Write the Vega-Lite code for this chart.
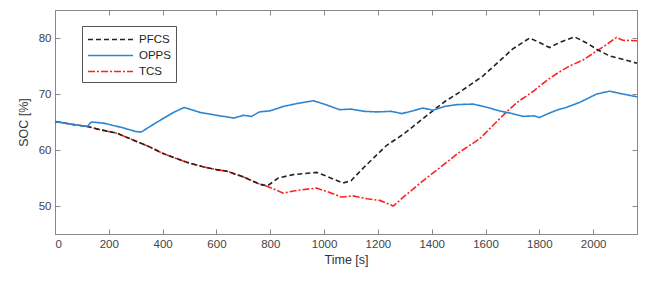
{
  "$schema": "https://vega.github.io/schema/vega-lite/v6.json",
  "autosize": "none",
  "padding": {"left": 55, "top": 10, "right": 13, "bottom": 53},
  "width": 582,
  "height": 224,
  "background": "white",
  "config": {
    "font": "Liberation Sans",
    "view": {"stroke": "#888", "strokeWidth": 1},
    "axis": {"grid": false, "domainColor": "#888", "tickColor": "#888", "labelColor": "#444", "titleColor": "#333", "labelFontSize": 11.5, "titleFontSize": 12.5, "titleFontWeight": "normal", "tickSize": -5, "labelPadding": 9}
  },
  "data": {"values": [
    {"s":"TCS","t":0,"v":65.1},{"s":"TCS","t":60,"v":64.6},{"s":"TCS","t":120,"v":64.2},{"s":"TCS","t":170,"v":63.6},{"s":"TCS","t":230,"v":63.0},{"s":"TCS","t":290,"v":61.8},{"s":"TCS","t":350,"v":60.6},{"s":"TCS","t":400,"v":59.4},{"s":"TCS","t":450,"v":58.5},{"s":"TCS","t":490,"v":57.8},{"s":"TCS","t":550,"v":57.0},{"s":"TCS","t":600,"v":56.5},{"s":"TCS","t":640,"v":56.2},{"s":"TCS","t":700,"v":55.2},{"s":"TCS","t":760,"v":53.9},{"s":"TCS","t":790,"v":53.5},{"s":"TCS","t":848,"v":52.3},{"s":"TCS","t":900,"v":52.8},{"s":"TCS","t":972,"v":53.2},{"s":"TCS","t":1010,"v":52.6},{"s":"TCS","t":1065,"v":51.6},{"s":"TCS","t":1107,"v":51.8},{"s":"TCS","t":1160,"v":51.3},{"s":"TCS","t":1207,"v":51.0},{"s":"TCS","t":1257,"v":50.0},{"s":"TCS","t":1300,"v":51.8},{"s":"TCS","t":1355,"v":54.0},{"s":"TCS","t":1442,"v":57.3},{"s":"TCS","t":1500,"v":59.5},{"s":"TCS","t":1578,"v":62.0},{"s":"TCS","t":1630,"v":64.5},{"s":"TCS","t":1678,"v":66.8},{"s":"TCS","t":1720,"v":68.6},{"s":"TCS","t":1775,"v":70.4},{"s":"TCS","t":1830,"v":72.5},{"s":"TCS","t":1870,"v":73.8},{"s":"TCS","t":1912,"v":75.0},{"s":"TCS","t":1960,"v":76.0},{"s":"TCS","t":1998,"v":77.2},{"s":"TCS","t":2040,"v":78.5},{"s":"TCS","t":2087,"v":80.1},{"s":"TCS","t":2110,"v":79.6},{"s":"TCS","t":2163,"v":79.5},
    {"s":"PFCS","t":0,"v":65.1},{"s":"PFCS","t":60,"v":64.6},{"s":"PFCS","t":120,"v":64.2},{"s":"PFCS","t":170,"v":63.6},{"s":"PFCS","t":230,"v":63.0},{"s":"PFCS","t":290,"v":61.8},{"s":"PFCS","t":350,"v":60.6},{"s":"PFCS","t":400,"v":59.4},{"s":"PFCS","t":450,"v":58.5},{"s":"PFCS","t":490,"v":57.8},{"s":"PFCS","t":550,"v":57.0},{"s":"PFCS","t":600,"v":56.5},{"s":"PFCS","t":640,"v":56.2},{"s":"PFCS","t":700,"v":55.2},{"s":"PFCS","t":760,"v":53.9},{"s":"PFCS","t":790,"v":53.6},{"s":"PFCS","t":830,"v":55.0},{"s":"PFCS","t":885,"v":55.6},{"s":"PFCS","t":972,"v":56.0},{"s":"PFCS","t":1010,"v":55.3},{"s":"PFCS","t":1070,"v":54.1},{"s":"PFCS","t":1100,"v":54.5},{"s":"PFCS","t":1150,"v":57.0},{"s":"PFCS","t":1232,"v":60.8},{"s":"PFCS","t":1300,"v":63.0},{"s":"PFCS","t":1404,"v":67.0},{"s":"PFCS","t":1450,"v":68.7},{"s":"PFCS","t":1500,"v":70.2},{"s":"PFCS","t":1590,"v":73.2},{"s":"PFCS","t":1650,"v":75.8},{"s":"PFCS","t":1700,"v":78.0},{"s":"PFCS","t":1764,"v":80.0},{"s":"PFCS","t":1800,"v":79.2},{"s":"PFCS","t":1838,"v":78.3},{"s":"PFCS","t":1880,"v":79.3},{"s":"PFCS","t":1931,"v":80.2},{"s":"PFCS","t":1980,"v":79.0},{"s":"PFCS","t":2020,"v":77.8},{"s":"PFCS","t":2061,"v":76.8},{"s":"PFCS","t":2110,"v":76.2},{"s":"PFCS","t":2163,"v":75.5},
    {"s":"OPPS","t":0,"v":65.1},{"s":"OPPS","t":60,"v":64.6},{"s":"OPPS","t":120,"v":64.2},{"s":"OPPS","t":135,"v":65.0},{"s":"OPPS","t":180,"v":64.8},{"s":"OPPS","t":250,"v":64.0},{"s":"OPPS","t":300,"v":63.3},{"s":"OPPS","t":320,"v":63.2},{"s":"OPPS","t":380,"v":65.0},{"s":"OPPS","t":440,"v":66.7},{"s":"OPPS","t":480,"v":67.6},{"s":"OPPS","t":540,"v":66.7},{"s":"OPPS","t":600,"v":66.2},{"s":"OPPS","t":640,"v":65.9},{"s":"OPPS","t":665,"v":65.7},{"s":"OPPS","t":700,"v":66.2},{"s":"OPPS","t":730,"v":66.0},{"s":"OPPS","t":760,"v":66.8},{"s":"OPPS","t":800,"v":67.0},{"s":"OPPS","t":850,"v":67.8},{"s":"OPPS","t":900,"v":68.3},{"s":"OPPS","t":960,"v":68.8},{"s":"OPPS","t":1000,"v":68.2},{"s":"OPPS","t":1058,"v":67.2},{"s":"OPPS","t":1100,"v":67.3},{"s":"OPPS","t":1150,"v":66.9},{"s":"OPPS","t":1195,"v":66.8},{"s":"OPPS","t":1250,"v":66.9},{"s":"OPPS","t":1289,"v":66.5},{"s":"OPPS","t":1330,"v":67.0},{"s":"OPPS","t":1368,"v":67.5},{"s":"OPPS","t":1404,"v":67.1},{"s":"OPPS","t":1450,"v":67.8},{"s":"OPPS","t":1493,"v":68.1},{"s":"OPPS","t":1553,"v":68.2},{"s":"OPPS","t":1600,"v":67.7},{"s":"OPPS","t":1650,"v":67.0},{"s":"OPPS","t":1700,"v":66.5},{"s":"OPPS","t":1738,"v":66.0},{"s":"OPPS","t":1782,"v":66.1},{"s":"OPPS","t":1800,"v":65.8},{"s":"OPPS","t":1838,"v":66.6},{"s":"OPPS","t":1870,"v":67.2},{"s":"OPPS","t":1900,"v":67.6},{"s":"OPPS","t":1950,"v":68.5},{"s":"OPPS","t":2013,"v":70.0},{"s":"OPPS","t":2061,"v":70.5},{"s":"OPPS","t":2100,"v":70.1},{"s":"OPPS","t":2163,"v":69.5}
  ]},
  "layer": [
    {
      "mark": {"type": "line", "strokeWidth": 1.6},
      "encoding": {
        "x": {"field": "t", "type": "quantitative", "scale": {"domain": [0, 2163], "nice": false}, "axis": {"values": [0,200,400,600,800,1000,1200,1400,1600,1800,2000], "format": "d", "title": "Time [s]", "titlePadding": 4}},
        "y": {"field": "v", "type": "quantitative", "scale": {"domain": [45, 85], "nice": false, "zero": false}, "axis": {"values": [50,60,70,80], "title": "SOC [%]", "titlePadding": 8}},
        "color": {"field": "s", "type": "nominal", "scale": {"domain": ["PFCS","OPPS","TCS"], "range": ["#222222","#2E86D1","#FF2222"]}, "legend": {"title": null, "orient": "none", "legendX": 27, "legendY": 16, "symbolType": "M-1,0L5,0", "symbolSize": 225, "symbolStrokeWidth": 1.6, "labelOffset": 35, "labelFontSize": 11.5, "labelColor": "#222", "fillColor": "white", "strokeColor": "#555", "padding": 5, "rowPadding": 2}},
        "strokeDash": {"field": "s", "type": "nominal", "scale": {"domain": ["PFCS","OPPS","TCS"], "range": [[5,3],[1,0],[7,2,2,2]]}, "legend": null},
        "order": {"field": "t", "type": "quantitative"}
      }
    },
    {
      "mark": {"type": "line", "opacity": 0},
      "encoding": {
        "x": {"field": "t", "type": "quantitative", "axis": {"orient": "top", "values": [0,200,400,600,800,1000,1200,1400,1600,1800,2000], "labels": false, "title": null}},
        "y": {"field": "v", "type": "quantitative", "axis": {"orient": "right", "values": [50,60,70,80], "labels": false, "title": null}}
      }
    }
  ],
  "resolve": {"axis": {"x": "independent", "y": "independent"}}
}
